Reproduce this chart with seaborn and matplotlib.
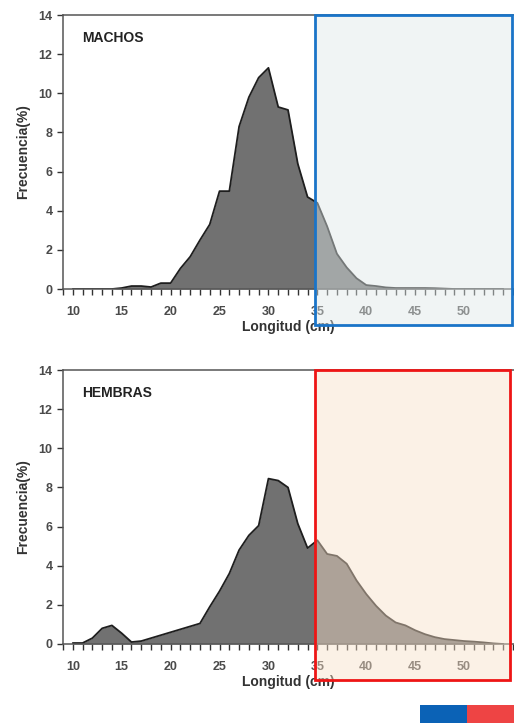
import matplotlib
matplotlib.use("Agg")
import matplotlib.pyplot as plt
from matplotlib.patches import Rectangle
import seaborn as sns
import pandas as pd

# longitud (cm) and frecuencia (%)
longitud = list(range(10, 55))
machos = [0.0, 0.0, 0.0, 0.0, 0.0, 0.05, 0.15, 0.15, 0.1, 0.3,
          0.3, 1.05, 1.65, 2.5, 3.3, 5.0, 5.0, 8.3, 9.8, 10.8,
          11.3, 9.3, 9.15, 6.4, 4.7, 4.4, 3.2, 1.8, 1.1, 0.55,
          0.2, 0.15, 0.08, 0.05, 0.05, 0.05, 0.05, 0.04, 0.02, 0.0,
          0.0, 0.0, 0.0, 0.0, 0.0]
hembras = [0.05, 0.05, 0.3, 0.8, 0.95, 0.55, 0.1, 0.15, 0.3, 0.45,
           0.6, 0.75, 0.9, 1.05, 1.9, 2.7, 3.6, 4.8, 5.55, 6.05,
           8.45, 8.35, 8.0, 6.15, 4.9, 5.3, 4.6, 4.5, 4.1, 3.25,
           2.55, 1.95, 1.45, 1.1, 0.95, 0.7, 0.5, 0.35, 0.25, 0.2,
           0.15, 0.12, 0.08, 0.03, 0.0]
panel_names = ["MACHOS", "HEMBRAS"]
xtick_vals = [10, 15, 20, 25, 30, 35, 40, 45, 50]

df = pd.DataFrame({"longitud": longitud, "MACHOS": machos, "HEMBRAS": hembras})

sns.set_style("ticks")
plt.rcParams["font.family"] = ["Liberation Sans", "DejaVu Sans"]

fig = plt.figure(figsize=(5.14, 7.23), dpi=100)
W, H = 514, 723

def px_axes(x0, y0, x1, y1):
    return fig.add_axes([x0 / W, 1 - y1 / H, (x1 - x0) / W, (y1 - y0) / H])

ax_top = px_axes(63, 15, 514, 289)
ax_bot = px_axes(63, 370, 514, 644)

for ax, name in zip([ax_top, ax_bot], panel_names):
    ax.fill_between(df["longitud"], df[name], 0, color="#717171", lw=0)
    sns.lineplot(data=df, x="longitud", y=name, ax=ax, color="#1e1e1e", lw=1.3)
    ax.set_xlim(9, 55.1)
    ax.set_ylim(0, 14)
    ax.set_yticks(range(0, 15, 2))
    ax.set_xticks(xtick_vals)
    ax.set_xticks(range(9, 56), minor=True)
    ax.tick_params(axis="both", which="both", direction="out", length=4,
                   width=1, color="#333333", labelsize=9, labelcolor="#4a4a4a")
    ax.tick_params(axis="x", pad=8)
    for lab in ax.get_xticklabels() + ax.get_yticklabels():
        lab.set_fontweight("bold")
    for side in ["left", "bottom", "top"]:
        ax.spines[side].set_color("#555555")
        ax.spines[side].set_linewidth(1.1)
    ax.spines["right"].set_visible(False)
    ax.set_xlabel("Longitud (cm)", fontsize=10, fontweight="bold", color="#333333", labelpad=2)
    ax.set_ylabel("Frecuencia(%)", fontsize=10, fontweight="bold", color="#333333", labelpad=6)
    ax.text(0.043, 0.915, name, transform=ax.transAxes, fontsize=10,
            fontweight="bold", color="#222222", va="center")

# highlight boxes drawn above the axes
def px_rect(x0, y0, x1, y1, **kw):
    r = Rectangle((x0 / W, 1 - y1 / H), (x1 - x0) / W, (y1 - y0) / H,
                  transform=fig.transFigure, **kw)
    fig.add_artist(r)

px_rect(315, 15, 512, 325, facecolor="#dfe7e7", alpha=0.45, lw=0)
px_rect(315, 15, 512, 325, facecolor="none", edgecolor="#1a74c8", lw=2)
px_rect(315, 370, 510, 680, facecolor="#f8e0c8", alpha=0.45, lw=0)
px_rect(315, 370, 510, 680, facecolor="none", edgecolor="#ee1515", lw=2)

# small flag bar at the bottom right
px_rect(420, 705, 467, 723, facecolor="#0b62b6", lw=0)
px_rect(467, 705, 514, 723, facecolor="#ee4444", lw=0)

fig.savefig("out.png", dpi=100)
